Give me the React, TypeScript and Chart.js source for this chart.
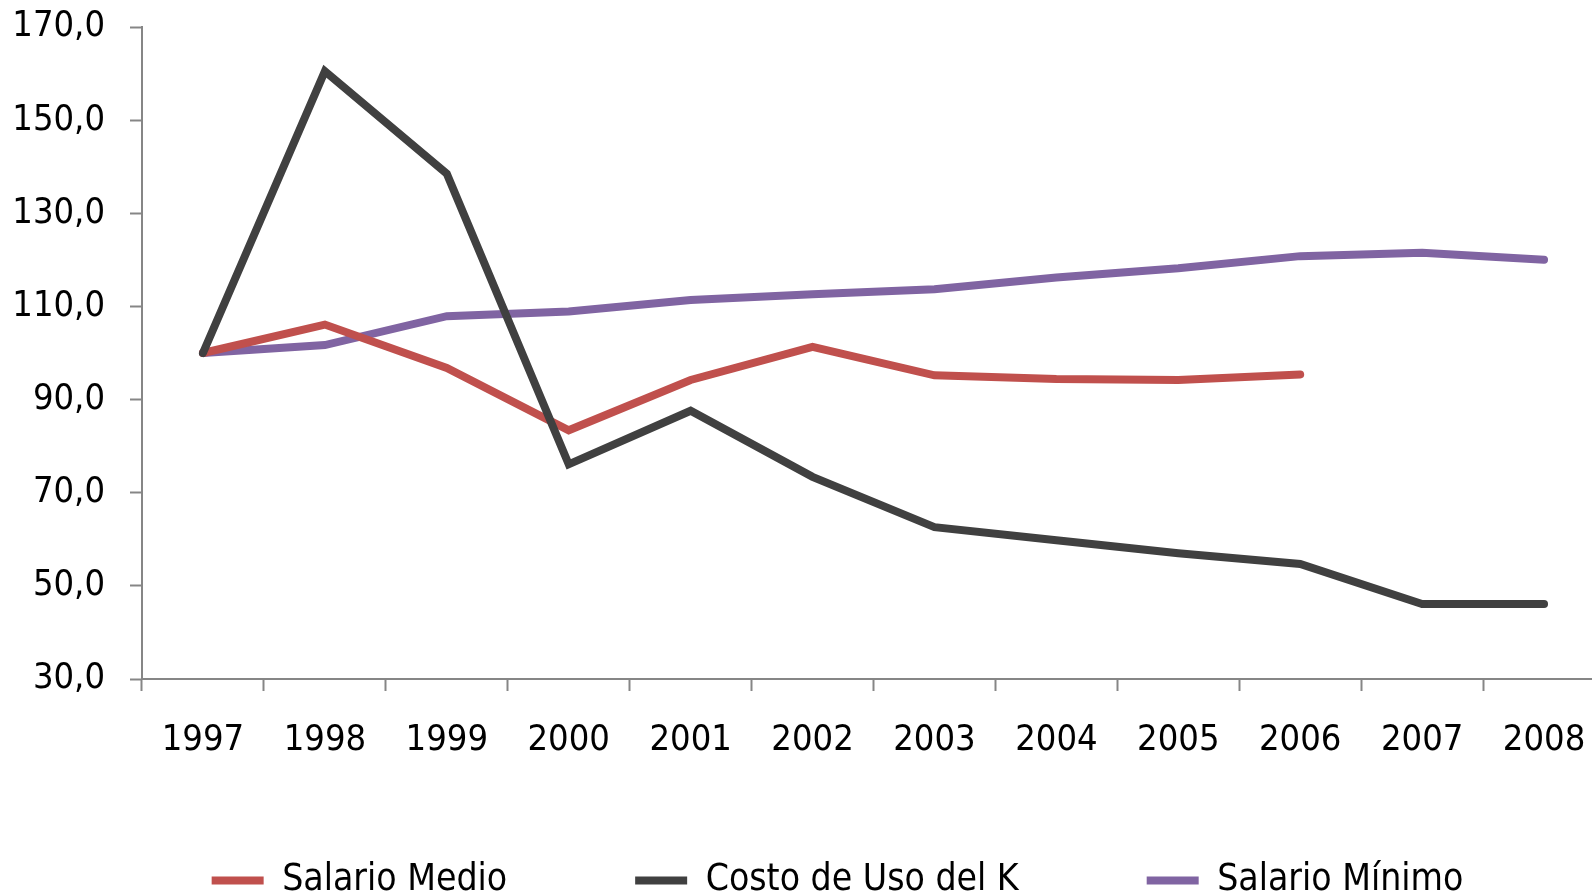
import React, { useEffect, useRef } from "react";
import { Chart, registerables } from "chart.js";

Chart.register(...registerables);

const years = ["1997", "1998", "1999", "2000", "2001", "2002", "2003", "2004", "2005", "2006", "2007", "2008"];
const salarioMedio = [100.0, 106.1, 96.8, 83.4, 94.2, 101.3, 95.2, 94.4, 94.2, 95.4, null, null];
const costoUsoK = [100.0, 160.5, 138.5, 76.1, 87.6, 73.4, 62.6, 59.8, 57.0, 54.7, 46.1, 46.1];
const salarioMinimo = [100.0, 101.7, 107.9, 108.9, 111.4, 112.6, 113.7, 116.2, 118.2, 120.8, 121.5, 120.0];
const yMin = 30;
const yMax = 170;
const yStep = 20;

const FONT = "'DejaVu Sans Condensed', 'DejaVu Sans', sans-serif";
const AXIS_GRAY = "#868686";

export default function App() {
  const ref = useRef<HTMLCanvasElement | null>(null);

  useEffect(() => {
    if (!ref.current) return;
    const common = {
      borderWidth: 8,
      borderCapStyle: "round" as const,
      borderJoinStyle: "miter" as const,
      pointRadius: 0,
      pointHoverRadius: 0,
    };
    const chart = new Chart(ref.current, {
      type: "line",
      data: {
        labels: years,
        datasets: [
          {
            label: "Salario Medio",
            data: salarioMedio,
            borderColor: "#C0504D",
            backgroundColor: "#C0504D",
            spanGaps: false,
            order: 1,
            ...common,
          },
          {
            label: "Costo de Uso del K",
            data: costoUsoK,
            borderColor: "#404040",
            backgroundColor: "#404040",
            order: 0,
            ...common,
          },
          {
            label: "Salario Mínimo",
            data: salarioMinimo,
            borderColor: "#8064A2",
            backgroundColor: "#8064A2",
            order: 2,
            ...common,
          },
        ],
      },
      options: {
        responsive: false,
        animation: false,
        devicePixelRatio: 1,
        layout: { padding: { left: 70, right: 0, top: 27, bottom: 0 } },
        plugins: {
          tooltip: { enabled: false },
          legend: {
            position: "bottom",
            labels: {
              usePointStyle: true,
              pointStyle: "line",
              pointStyleWidth: 52,
              padding: 128,
              color: "#000",
              font: { family: FONT, size: 37 },
              sort: (a: any, b: any) => a.datasetIndex - b.datasetIndex,
            },
          },
        },
        scales: {
          x: {
            type: "category",
            offset: true,
            afterFit: (s: any) => {
              s.height = 55;
              s.paddingLeft = 0;
              s.paddingRight = 0;
              s._computeLabelArea = () => undefined;
            },
            grid: {
              display: true,
              offset: true,
              drawOnChartArea: false,
              drawTicks: true,
              tickLength: 12,
              tickColor: AXIS_GRAY,
              tickWidth: 2,
              color: AXIS_GRAY,
            },
            border: { display: true, color: AXIS_GRAY, width: 2 },
            ticks: {
              color: "#000",
              font: { family: FONT, size: 36 },
              padding: 28,
              autoSkip: false,
              maxRotation: 0,
            },
          },
          y: {
            min: yMin,
            max: yMax,
            afterFit: (s: any) => {
              s.width = 72;
              s.paddingTop = 0;
              s.paddingBottom = 0;
              s._computeLabelArea = () => undefined;
            },
            grid: {
              display: true,
              drawOnChartArea: false,
              drawTicks: true,
              tickLength: 12,
              tickColor: AXIS_GRAY,
              tickWidth: 2,
              color: AXIS_GRAY,
            },
            border: { display: true, color: AXIS_GRAY, width: 2 },
            ticks: {
              stepSize: yStep,
              color: "#000",
              font: { family: FONT, size: 36 },
              padding: 25,
              callback: (v: any) => Number(v).toFixed(1).replace(".", ","),
            },
          },
        },
      },
    });
    return () => chart.destroy();
  }, []);

  return (
    <div
      style={{
        position: "fixed",
        left: 0,
        top: 0,
        width: 1592,
        height: 895,
        overflow: "hidden",
        background: "#fff",
      }}
    >
      <canvas ref={ref} width={1605} height={909} style={{ display: "block", width: 1605, height: 909 }} />
    </div>
  );
}
